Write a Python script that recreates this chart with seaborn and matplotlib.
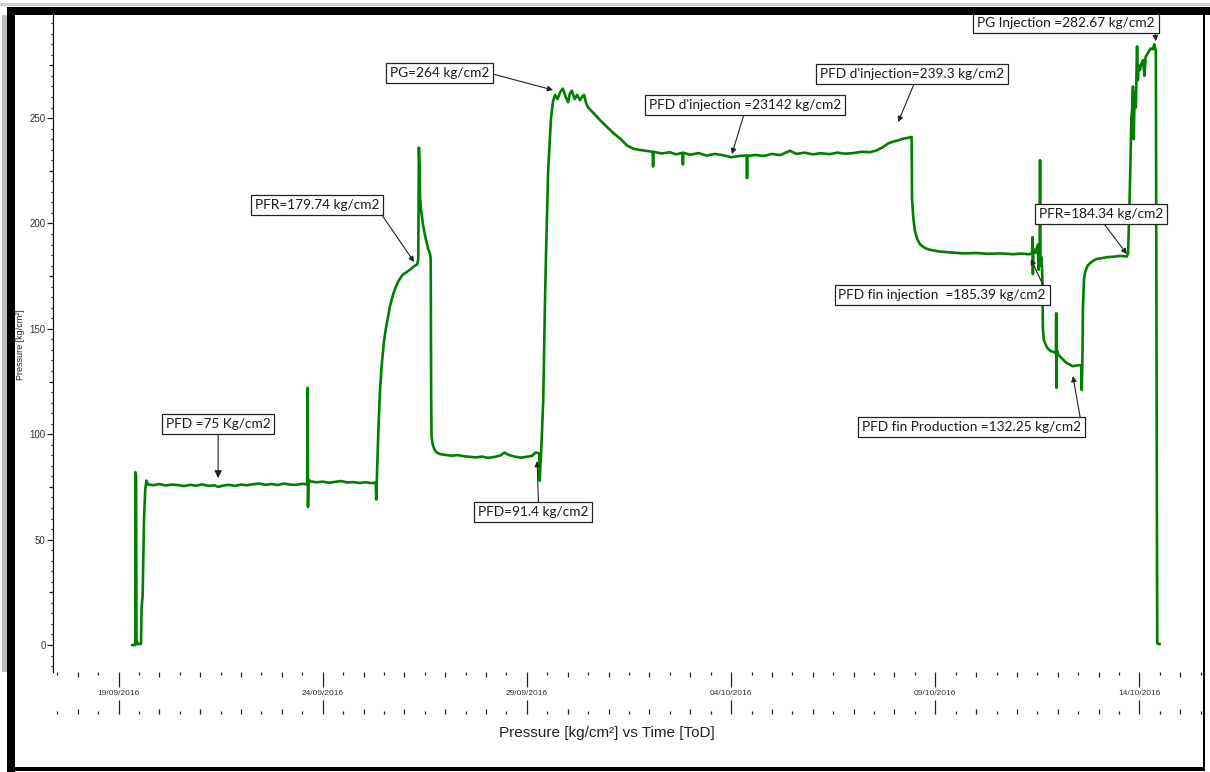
import matplotlib
matplotlib.use("Agg")
import matplotlib.pyplot as plt
from matplotlib.patches import Rectangle
from matplotlib.ticker import FixedLocator, MultipleLocator, NullFormatter
import pandas as pd
import seaborn as sns

# Bottom-hole gauge record: elapsed time (days since 19/09/2016 00:00) and pressure (kg/cm2)
elapsed_days = [
    0.33, 0.41, 0.415, 0.43, 0.44, 0.46, 0.55, 0.565, 0.59, 0.625, 0.655, 0.685,
    0.72, 0.85, 1.0, 1.15, 1.3, 1.45, 1.6, 1.75, 1.9, 2.05, 2.2, 2.35, 2.44, 2.55,
    2.7, 2.85, 3.0, 3.15, 3.3, 3.45, 3.6, 3.75, 3.9, 4.05, 4.2, 4.35, 4.5, 4.62,
    4.63, 4.64, 4.65, 4.7, 4.85, 5.0, 5.15, 5.3, 5.45, 5.6, 5.75, 5.9, 6.05, 6.2,
    6.30, 6.31, 6.325, 6.36, 6.40, 6.45, 6.50, 6.55, 6.65, 6.75, 6.85, 6.95, 7.06,
    7.15, 7.24, 7.31, 7.34, 7.355, 7.37, 7.385, 7.41, 7.46, 7.52, 7.58, 7.63,
    7.645, 7.655, 7.665, 7.69, 7.73, 7.78, 7.87, 8.0, 8.15, 8.3, 8.45, 8.6, 8.75,
    8.9, 9.05, 9.2, 9.35, 9.45, 9.55, 9.7, 9.85, 10.0, 10.12, 10.22, 10.30,
    10.315, 10.33, 10.35, 10.40, 10.44, 10.47, 10.52, 10.59, 10.64, 10.69, 10.75,
    10.82, 10.88, 10.95, 11.01, 11.05, 11.10, 11.17, 11.23, 11.30, 11.35, 11.40,
    11.45, 11.50, 11.65, 11.79, 11.95, 12.11, 12.30, 12.45, 12.60, 12.72, 12.90,
    13.08, 13.09, 13.10, 13.3, 13.5, 13.65, 13.81, 13.82, 13.83, 14.0, 14.2, 14.4,
    14.6, 14.8, 15.0, 15.2, 15.38, 15.39, 15.40, 15.6, 15.8, 16.0, 16.2, 16.44,
    16.6, 16.8, 17.0, 17.2, 17.42, 17.6, 17.8, 18.0, 18.2, 18.4, 18.55, 18.7,
    18.85, 19.0, 19.08, 19.2, 19.32, 19.42, 19.43, 19.46, 19.50, 19.56, 19.63,
    19.75, 19.87, 20.1, 20.4, 20.7, 21.0, 21.3, 21.6, 21.9, 22.1, 22.30, 22.37,
    22.38, 22.39, 22.40, 22.45, 22.51, 22.53, 22.555, 22.565, 22.575, 22.60,
    22.62, 22.635, 22.66, 22.74, 22.82, 22.90, 22.955, 22.96, 22.965, 22.975,
    23.02, 23.10, 23.20, 23.30, 23.37, 23.45, 23.54, 23.575, 23.585, 23.60,
    23.615, 23.64, 23.67, 23.73, 23.79, 23.88, 23.96, 24.1, 24.21, 24.35, 24.52,
    24.69, 24.72, 24.75, 24.78, 24.80, 24.82, 24.84, 24.86, 24.88, 24.91, 24.94,
    24.96, 24.98, 25.01, 25.05, 25.09, 25.12, 25.15, 25.21, 25.27, 25.33, 25.36,
    25.40, 25.415, 25.43, 25.435, 25.46, 25.50,
]
pressure = [
    0.0, 0.0, 82.0, 80.5, 3.0, 0.5, 0.5, 18.0, 23.0, 60.0, 74.0, 78.0,
    76.2, 75.8, 76.4, 75.7, 76.1, 75.9, 75.4, 76.0, 75.6, 76.2, 75.5, 75.8, 75.0, 75.6,
    76.0, 75.5, 76.1, 75.8, 76.3, 76.6, 76.0, 76.4, 75.9, 76.6, 76.1, 76.0, 76.5, 76.2,
    122.0, 65.5, 78.5, 77.6, 77.2, 77.5, 77.0, 77.4, 77.8, 77.1, 77.3, 76.9, 77.2, 76.8,
    77.0, 69.0, 78.0, 100.0, 120.0, 134.0, 144.0, 150.5, 161.0, 168.0, 172.5, 175.5, 177.0,
    178.3, 179.74, 180.5, 183.0, 236.0, 228.0, 212.0, 206.0, 199.0, 193.0, 188.0, 185.5,
    183.0, 120.0, 99.0, 95.5, 93.0, 91.5, 90.6, 90.2, 89.8, 90.1, 89.6, 89.3, 89.0,
    89.4, 88.8, 89.2, 89.9, 91.3, 90.2, 89.4, 88.9, 89.3, 89.7, 91.4, 90.8,
    78.0, 85.0, 92.0, 116.0, 160.0, 187.0, 225.0, 250.0, 258.0, 261.0, 259.0,
    262.5, 264.0, 260.0, 257.5, 261.5, 263.0, 259.0, 261.0, 258.5, 260.0, 261.0,
    257.0, 255.0, 252.0, 249.0, 246.0, 243.0, 240.0, 237.0, 235.5, 235.0, 234.5,
    234.0, 227.0, 234.0, 233.2, 233.8, 232.8, 233.5, 228.0, 233.5, 232.6, 233.4, 232.2,
    233.0, 232.4, 231.42, 232.0, 232.3, 221.5, 232.0, 232.5, 232.0, 233.0, 232.4, 234.5,
    233.0, 233.6, 232.8, 233.3, 232.9, 233.6, 233.1, 233.4, 234.0, 233.8, 234.6, 236.0,
    238.0, 239.0, 239.3, 240.2, 240.6, 241.0, 212.0, 203.0, 196.5, 192.5, 190.0,
    188.3, 187.5, 186.7, 186.2, 185.8, 186.0, 185.6, 185.8, 185.4, 185.7, 185.39, 185.8,
    193.5, 176.0, 188.0, 186.0, 190.0, 178.0, 187.0, 230.0, 180.0, 184.0,
    175.0, 150.0, 144.5, 141.0, 139.5, 139.0, 138.5, 157.5, 122.0, 140.0,
    137.5, 136.0, 134.0, 133.0, 132.25, 132.6, 132.8, 132.5, 121.0, 132.0,
    160.0, 173.5, 177.0, 180.0, 181.2, 182.5, 183.2, 183.6, 184.0, 184.2, 184.6,
    184.34, 186.0, 205.0, 230.0, 250.0, 254.0, 265.0, 240.0, 262.0, 255.0, 284.0,
    268.0, 275.0, 272.8, 276.0, 277.5, 270.0, 279.0, 281.0, 283.0, 282.67, 285.0,
    282.0, 150.0, 30.0, 0.8, 0.5, 0.5,
]

date_ticks = ["19/09/2016", "24/09/2016", "29/09/2016", "04/10/2016", "09/10/2016", "14/10/2016"]

event_labels = [
    "PFD =75 Kg/cm2",
    "PFR=179.74 kg/cm2",
    "PFD=91.4 kg/cm2",
    "PG=264 kg/cm2",
    "PFD d'injection =23142 kg/cm2",
    "PFD d'injection=239.3 kg/cm2",
    "PFD fin injection  =185.39 kg/cm2",
    "PFR=184.34 kg/cm2",
    "PFD fin Production =132.25 kg/cm2",
    "PG Injection =282.67 kg/cm2",
]

# Callout layout: arrow tip (day, kg/cm2), box centre (day, kg/cm2), arrow start on box, head size
callouts = [
    ((2.44, 79.2), (2.44, 104.8), (0.5, 0.0), 11),
    ((7.24, 181.7), (4.86, 208.7), (1.0, 0.0), 8),
    ((10.25, 87.3), (10.15, 63.1), (0.55, 1.0), 8),
    ((10.64, 263.3), (7.87, 271.3), (1.0, 0.5), 8),
    ((15.02, 232.9), (15.34, 256.2), (0.5, 0.0), 8),
    ((19.09, 248.1), (19.43, 270.9), (0.52, 0.0), 8),
    ((22.34, 183.1), (20.17, 166.0), (0.995, 1.0), 8),
    ((24.69, 185.5), (24.06, 204.5), (0.5, 0.0), 8),
    ((23.37, 127.6), (20.88, 103.4), (1.0, 1.0), 8),
    ((25.40, 286.5), (23.20, 295.1), (1.0, 0.0), 8),
]

t0 = pd.Timestamp("2016-09-19")
tick_days = [(pd.to_datetime(s, dayfirst=True) - t0) / pd.Timedelta(days=1) for s in date_ticks]

df = pd.DataFrame({"days": elapsed_days, "pressure": pressure})

sns.set_theme(style="white")
plt.rcParams["font.family"] = ["Liberation Sans Narrow", "Liberation Sans", "DejaVu Sans"]

W, H = 1210, 772
fig = plt.figure(figsize=(W / 100, H / 100), dpi=100)
fig.patch.set_facecolor("white")
ax = fig.add_axes([53 / W, 1 - 672 / H, 1150 / W, 657 / H])
ax.set_facecolor("white")

sns.lineplot(data=df, x="days", y="pressure", ax=ax, color="#008000", lw=1.9,
             estimator=None, sort=False, legend=False, zorder=3)

ax.set_xlim(-1.604, 26.555)
ax.set_ylim(-12.8, 298.9)

for side in ("top", "right", "bottom"):
    ax.spines[side].set_visible(False)
ax.spines["left"].set_color("#111111")
ax.spines["left"].set_linewidth(0.9)

tick_col = "#222222"
# x axis, upper row of ticks with the date labels
ax.xaxis.set_major_locator(FixedLocator(tick_days))
ax.set_xticklabels(date_ticks)
ax.xaxis.set_minor_locator(MultipleLocator(1.0))
ax.tick_params(axis="x", which="major", bottom=True, direction="out", length=10.8, width=0.9,
               color=tick_col, labelsize=6.0, labelcolor="#333333", pad=2.2)
ax.tick_params(axis="x", which="minor", bottom=True, direction="out", length=3.6, width=0.9,
               color=tick_col)
half_top = ax.secondary_xaxis(0.0)
half_top.spines["bottom"].set_visible(False)
half_top.set_xticks([d + 0.5 for d in range(-2, 27)])
half_top.xaxis.set_major_formatter(NullFormatter())
half_top.tick_params(axis="x", which="major", direction="out", length=2.2, width=0.9, color=tick_col)

# x axis, lower row of ticks
row_loc = -42 / 657
low = ax.secondary_xaxis(row_loc)
low.spines["bottom"].set_visible(False)
low.xaxis.set_major_locator(FixedLocator(tick_days))
low.xaxis.set_minor_locator(MultipleLocator(1.0))
low.xaxis.set_major_formatter(NullFormatter())
low.tick_params(axis="x", which="major", direction="in", length=10.0, width=0.9, color=tick_col)
low.tick_params(axis="x", which="minor", direction="in", length=3.6, width=0.9, color=tick_col)
low_half = ax.secondary_xaxis(row_loc)
low_half.spines["bottom"].set_visible(False)
low_half.set_xticks([d + 0.5 for d in range(-2, 27)])
low_half.xaxis.set_major_formatter(NullFormatter())
low_half.tick_params(axis="x", which="major", direction="in", length=2.2, width=0.9, color=tick_col)

# y axis
ax.yaxis.set_major_locator(MultipleLocator(50))
ax.yaxis.set_minor_locator(MultipleLocator(5))
ax.tick_params(axis="y", which="major", left=True, direction="out", length=4.3, width=0.9,
               color=tick_col, labelsize=7, labelcolor="#333333", pad=1.0)
ax.tick_params(axis="y", which="minor", left=True, direction="out", length=1.8, width=0.9,
               color=tick_col)
quarter = ax.secondary_yaxis(0.0)
quarter.spines["left"].set_visible(False)
quarter.set_yticks(list(range(25, 300, 50)))
quarter.yaxis.set_major_formatter(NullFormatter())
quarter.tick_params(axis="y", which="major", direction="out", length=3.0, width=0.9, color=tick_col)

ax.set_ylabel("Pressure [kg/cm\u00b2]", fontsize=6.5, color="#222222")
ax.yaxis.set_label_coords(-28 / 1150, 0.498)
ax.set_xlabel("Pressure [kg/cm\u00b2] vs Time [ToD]", fontsize=11, color="#222222")
ax.xaxis.label.set_va("center")
ax.xaxis.set_label_coords((607 - 53) / 1150, -(733 - 672) / 657)

for label, (tip, centre, rel, head) in zip(event_labels, callouts):
    ax.annotate(
        label, xy=tip, xytext=centre, ha="center", va="center",
        fontsize=9.8, family=["Lato", "DejaVu Sans"], color="#1a1a1a", zorder=6,
        bbox=dict(boxstyle="square,pad=0.28", fc="white", ec="#222222", lw=0.9),
        arrowprops=dict(arrowstyle="-|>", color="#222222", lw=0.8, mutation_scale=head,
                        shrinkA=0, shrinkB=0, relpos=rel),
    )


def frame_rect(x0, y0, x1, y1, color):
    fig.add_artist(Rectangle((x0 / W, 1 - y1 / H), (x1 - x0) / W, (y1 - y0) / H,
                             transform=fig.transFigure, color=color, lw=0, zorder=10))


# window frame around the plot
frame_rect(0, 3, W, 6, "#cfcfcf")
frame_rect(2, 15, 7, 672, "#bdbdbd")
frame_rect(7, 7, 15, H, "black")
frame_rect(7, 7, W, 15, "black")
frame_rect(1203, 15, 1205, 770, "black")
frame_rect(7, 767, 1205, 771, "black")

fig.savefig("out.png", dpi=100)
